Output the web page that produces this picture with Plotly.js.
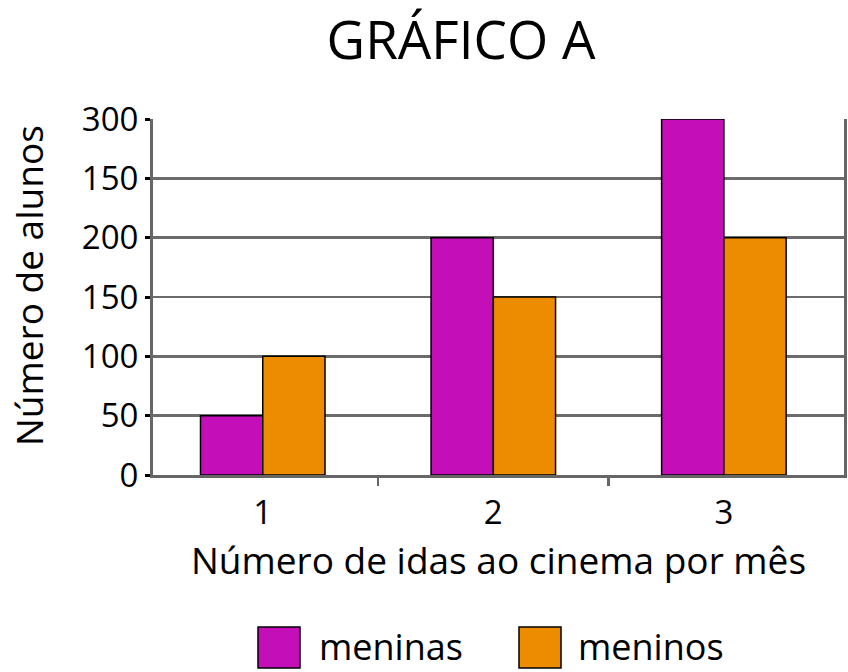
<!DOCTYPE html>
<html>
<head>
<meta charset="utf-8">
<script src="https://cdn.plot.ly/plotly-3.0.1.min.js"></script>
<style>html,body{margin:0;padding:0;background:#fff;}#chart{width:848px;height:672px;}</style>
</head>
<body>
<div id="chart"></div>
<script>
const categories = [1, 2, 3];
const meninas = [50, 200, 300];
const meninos = [100, 150, 200];
const yTickVals = [0, 50, 100, 150, 200, 250, 300];
const yTickText = ['0', '50', '100', '150', '200', '150', '300'];
const seriesNames = ['meninas', 'meninos'];
const seriesColors = ['#C40FB8', '#EE8C00'];

const FONT = 'Open Sans, Noto Sans, sans-serif';
const W = 848, H = 672;
const L = 153, R = 4, T = 119, B = 197;
const pw = W - L - R, ph = H - T - B;
const px = x => (x - L) / pw;
const py = y => (H - B - y) / ph;

const traces = [meninas, meninos].map((vals, i) => ({
  type: 'bar',
  name: seriesNames[i],
  x: categories,
  y: vals,
  marker: {color: seriesColors[i], line: {color: '#000', width: 1.5}},
  hoverinfo: 'x+y+name'
}));

// custom legend (large squares)
const legendItems = [
  {sq: [258, 300], tx: 317},
  {sq: [519, 561], tx: 576}
];
const shapes = legendItems.map((it, i) => ({
  type: 'rect', xref: 'paper', yref: 'paper',
  x0: px(it.sq[0]), x1: px(it.sq[1]), y0: py(627), y1: py(668),
  fillcolor: seriesColors[i], line: {color: '#000', width: 1.5}
}));
const annotations = legendItems.map((it, i) => ({
  xref: 'paper', yref: 'paper', x: px(it.tx), y: py(646),
  xanchor: 'left', yanchor: 'middle', showarrow: false,
  text: seriesNames[i], font: {family: FONT, size: 36, color: '#000'}
}));
annotations.push({
  xref: 'paper', yref: 'paper', x: px(28), y: py(286),
  xanchor: 'center', yanchor: 'middle', showarrow: false, textangle: -90,
  text: 'Número de alunos', font: {family: FONT, size: 37, color: '#000'}
});

const layout = {
  width: W, height: H,
  margin: {l: L, r: R, t: T, b: B, pad: 0},
  paper_bgcolor: '#fff', plot_bgcolor: '#fff',
  showlegend: false,
  barmode: 'group', bargap: 0.46, bargroupgap: 0,
  font: {family: FONT, color: '#000'},
  title: {
    text: 'GRÁFICO A', font: {family: FONT, size: 53, color: '#000'},
    x: 461 / W, xanchor: 'center', xref: 'container',
    y: 1 - 40 / H, yanchor: 'middle', yref: 'container'
  },
  xaxis: {
    type: 'linear', range: [0.524, 3.521],
    tickmode: 'array', tickvals: categories, ticktext: categories.map(String),
    ticks: '', showgrid: false, zeroline: false,
    showline: true, linecolor: '#666', linewidth: 3,
    tickfont: {family: FONT, size: 33, color: '#000'},
    ticklabelstandoff: 6,
    minor: {tickmode: 'array', tickvals: [1.5, 2.5], ticks: 'outside', ticklen: 8, tickwidth: 2.5, tickcolor: '#666', showgrid: false},
    title: {text: 'Número de idas ao cinema por mês', font: {family: FONT, size: 37, color: '#000'}, standoff: 4},
    fixedrange: true
  },
  yaxis: {
    range: [0, 300],
    tickmode: 'array', tickvals: yTickVals, ticktext: yTickText,
    ticks: 'outside', ticklen: 5, tickwidth: 3, tickcolor: '#000',
    showgrid: true, gridcolor: '#6b6b6b', gridwidth: 2.5,
    zeroline: false, showline: true, mirror: true, linecolor: '#666', linewidth: 3,
    tickfont: {family: FONT, size: 33, color: '#000'},
    fixedrange: true
  },
  shapes: shapes,
  annotations: annotations
};

Plotly.newPlot('chart', traces, layout, {displayModeBar: false, staticPlot: true});
</script>
</body>
</html>
